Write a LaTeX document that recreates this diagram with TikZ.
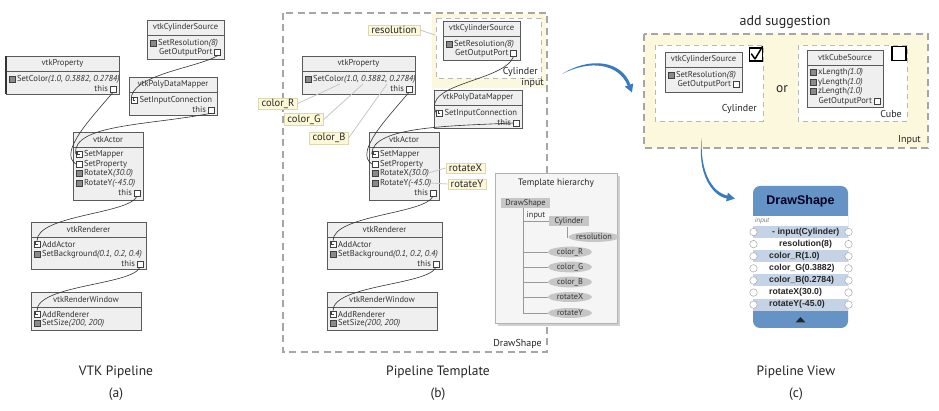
\documentclass[tikz,border=0pt]{standalone}
\usepackage{fontspec}
\setmainfont{PT Sans}
\newfontfamily\wfont{Liberation Sans}
\usetikzlibrary{arrows.meta,shapes.geometric}
\pgfdeclarelayer{bg}
\pgfsetlayers{bg,main}
\definecolor{boxfill}{HTML}{EFEFEF}
\definecolor{boxdraw}{HTML}{5A5A5A}
\definecolor{portg}{HTML}{8A8A8A}
\definecolor{yel}{HTML}{FBF8DE}
\definecolor{lblfill}{HTML}{FCF8D8}
\definecolor{lbldraw}{HTML}{DCD8B4}
\definecolor{dashg}{HTML}{A6A6A6}
\definecolor{arrblue}{HTML}{3A7BBF}
\definecolor{wblue}{HTML}{6593C6}
\definecolor{rowblue}{HTML}{C4D3E6}
\definecolor{treeg}{HTML}{C6C6C6}
\tikzset{
 vtkbox/.style={draw=boxdraw, fill=boxfill, line width=0.7pt, inner sep=0, rectangle},
 vtitle/.style={font=\fontsize{8.5}{9}\selectfont, text=black!80, inner sep=0},
 rowtext/.style={font=\fontsize{8.6}{9}\selectfont, text=black!80, inner sep=0},
 port/.style={draw=black!75, fill=white, minimum size=6pt, inner sep=0, line width=0.5pt, rectangle},
 gport/.style={port, fill=portg},
 inport/.style={port, path picture={\draw[line width=0.4pt] ([shift={(1.3pt,-1pt)}]path picture bounding box.north west) -- ++(0,-2.2pt) -- ++(2.2pt,0);}},
 conn/.style={draw=black!80, line width=0.6pt},
 lbl/.style={draw=lbldraw, fill=lblfill, font=\fontsize{10.5}{11}\selectfont, inner xsep=3pt, inner ysep=1pt, text=black!85},
 lblline/.style={draw=black!22, line width=0.8pt},
 dashbox/.style={draw=dashg, line width=1.2pt, dash pattern=on 7pt off 4.5pt},
 idash/.style={draw=dashg!80, line width=0.9pt, dash pattern=on 5pt off 4pt},
 trect/.style={fill=treeg, font=\fontsize{8.3}{9}\selectfont, inner sep=1.5pt, minimum height=10pt, text=black!80},
 tell/.style={ellipse, fill=treeg, font=\fontsize{8.3}{9}\selectfont, inner sep=0, minimum width=44pt, minimum height=10pt, text=black!80},
 tline/.style={draw=black!40, line width=0.5pt},
 captxt/.style={font=\fontsize{13.5}{15}\selectfont, text=black!85},
 plabel/.style={font=\fontsize{10}{11}\selectfont, text=black!85, inner sep=0},
 dstext/.style={font=\wfont\bfseries\fontsize{8.7}{9}\selectfont, text=black!85, inner sep=0, anchor=west},
 dsport/.style={circle, draw=black!35, fill=white, minimum size=7.5pt, inner sep=0, line width=0.5pt},
 chk/.style={draw=black, line width=1.3pt, fill=white, minimum size=13pt, inner sep=0, rectangle},
}
\newcommand\vtkBox[6]{%
 \node[vtkbox, minimum width={(#4)-(#2)}, minimum height={(#5)-(#3)}] (#1) at ({((#2)+(#4))/2},{((#3)+(#5))/2}) {};
 \node[vtitle] (#1-t) at ({((#2)+(#4))/2},{(#3)+7.5}) {#6};
 \draw[draw=boxdraw, line width=0.7pt] ({#2},{(#3)+15}) -- ({#4},{(#3)+15});
}
\newcommand\vrow[5]{%
 \node[#2] (#1) at ({#3},{#4}) {};
 \node[rowtext, anchor=west] (#1-l) at ({(#3)+4.8},{#4}) {#5};
}
\newcommand\vout[4]{%
 \node[port] (#1) at ({#2},{#3}) {};
 \node[rowtext, anchor=east] (#1-l) at ({(#2)-4.8},{#3}) {#4};
}
\newcommand\pipeline[6]{%
\begin{scope}[xshift=#2pt]
 \vtkBox{#1cyl}{#3}{#4}{#3+77}{#4+39}{vtkCylinderSource}
 \vrow{#1cres}{gport}{#3+6}{#4+23}{SetResolution\textit{(8)}}
 \vout{#1cout}{#3+70.5}{#4+32.5}{GetOutputPort}
 \vtkBox{#1prop}{6}{56}{119}{94}{vtkProperty}
 \vrow{#1pcol}{gport}{12}{79}{SetColor\textit{(1.0, 0.3882, 0.2784)}}
 \vout{#1pout}{113}{89}{this}
 \vtkBox{#1pdm}{#5}{#6}{#5+88}{#6+38}{vtkPolyDataMapper}
 \vrow{#1min}{inport}{#5+5.5}{#6+23}{SetInputConnection}
 \vout{#1mout}{#5+82}{#6+33}{this}
 \vtkBox{#1act}{73}{132}{143}{200}{vtkActor}
 \vrow{#1amap}{inport}{79}{154}{SetMapper}
 \vrow{#1aprop}{port}{79}{164}{SetProperty}
 \vrow{#1arx}{gport}{79}{173.5}{RotateX\textit{(30.0)}}
 \vrow{#1ary}{gport}{79}{183}{RotateY\textit{(-45.0)}}
 \vout{#1aout}{137}{193}{this}
 \vtkBox{#1ren}{31}{222}{146}{269}{vtkRenderer}
 \vrow{#1radd}{inport}{37}{244}{AddActor}
 \vrow{#1rbg}{gport}{37}{254}{SetBackground\textit{(0.1, 0.2, 0.4)}}
 \vout{#1rout}{140}{264}{this}
 \vtkBox{#1rw}{31}{292}{141}{330}{vtkRenderWindow}
 \vrow{#1wadd}{inport}{37}{314}{AddRenderer}
 \vrow{#1wsz}{gport}{37}{323.5}{SetSize\textit{(200, 200)}}
 \draw[conn] (#1pout.south) .. controls +(-20,24) and +(-18,-12) .. (#1aprop.west);
 \draw[conn] (#1aout.south) .. controls +(-8,18) and +(0,-26) .. (#1radd.north);
 \draw[conn] (#1rout.south) .. controls +(-8,18) and +(0,-26) .. (#1wadd.north);
\end{scope}}
\newcommand\dsrow[5]{%
 \fill[#3] (753,{226+12.1*#2}) rectangle (848,{238.1+12.1*#2});
 \node[dstext] (#1) at (#4,{232.05+12.1*#2}) {#5};
 \node[dsport] (#1-l) at (753.5,{232.05+12.1*#2}) {};
 \node[dsport] (#1-r) at (848.5,{232.05+12.1*#2}) {};
}
\begin{document}
\begin{tikzpicture}[x=1pt,y=-1pt]
\useasboundingbox (0,0) rectangle (939,411);
% ---------- backgrounds
\begin{pgfonlayer}{bg}
 \fill[white] (0,0) rectangle (939,411);
 \fill[yel] (432,14) rectangle (546,88);
 \draw[idash, fill=white] (436,18) rectangle (541,78);
 \draw[dashbox] (283,13) rectangle (547,352);
 \draw[dashbox, fill=yel] (644,34) rectangle (928,148);
 \draw[idash, fill=white] (655,45) rectangle (763,121);
 \draw[idash, fill=white] (798,45) rectangle (907,121);
\end{pgfonlayer}
% ---------- (a)
\pipeline{a}{0}{147}{20}{129}{77}
\draw[line width=2pt, black!80] (6,56) -- (6,94);
\draw[conn] (acout.south) .. controls +(-20,12) and +(-2,-25) .. (amin.west);
\draw[conn] (amout.south) .. controls +(-60,12) and +(-4,-30) .. (aamap.west);
% ---------- (b)
\pipeline{b}{296}{147}{21}{138}{90}
\draw[conn] (bcout.south) .. controls +(-10,25) and +(-15,-30) .. (bmin.west);
\draw[conn] (bmout.west) .. controls +(-60,3) and +(0,-28) .. (bamap.west);
\node[plabel, anchor=east] (bcyll) at (538,72) {Cylinder};
\node[plabel, anchor=east] (binl) at (544,83) {input};
\node[plabel, anchor=east] (bdsl) at (542,344) {DrawShape};
% labels
\node[lbl] (lres) at (394,30) {resolution};
\node[lbl] (lcr) at (278,103.5) {color\_R};
\node[lbl] (lcg) at (304,119.5) {color\_G};
\node[lbl] (lcb) at (329,138) {color\_B};
\node[lbl] (lrx) at (465.5,168) {rotateX};
\node[lbl] (lry) at (467,184) {rotateY};
\coordinate (vres) at (435,35);
\coordinate (vR) at (340,84);
\coordinate (vG) at (363,84);
\coordinate (vB) at (387,84);
\coordinate (vrx) at (428,173);
\coordinate (vry) at (430,183);
\draw[lblline] (lres.east) -- (vres);
\draw[lblline] (lcr.east) -- (vR);
\draw[lblline] (lcg.east) -- (vG);
\draw[lblline] (lcb.east) -- (vB);
\draw[lblline] (vrx) -- (lrx.west);
\draw[lblline] (vry) -- (lry.west);
% template hierarchy
\fill[black!18] (498,176) rectangle (620,326);
\node[draw=black!30, fill=black!4, minimum width=122pt, minimum height=150pt, inner sep=0] (th) at (556,248) {};
\node[font=\fontsize{9.3}{10}\selectfont, text=black!85] (tht) at (556,183) {Template hierarchy};
\node[trect, minimum width=49pt] (tds) at (525.5,203) {DrawShape};
\node[trect, minimum width=40pt] (tcyl) at (569,221) {Cylinder};
\node[font=\fontsize{8.3}{9}\selectfont, text=black!80, inner sep=0] (tin) at (536,215) {input};
\node[tell] (tres) at (594,237) {resolution};
\node[tell] (tcr) at (570,252) {color\_R};
\node[tell] (tcg) at (570,267) {color\_G};
\node[tell] (tcb) at (570,282) {color\_B};
\node[tell] (trx) at (570,297) {rotateX};
\node[tell] (try) at (570,313) {rotateY};
\coordinate (tv) at (523,208);
\draw[tline] (tv) |- (try.west);
\draw[tline] (tv |- tcyl) -- (tcyl.west);
\draw[tline] (tv |- tcr) -- (tcr.west);
\draw[tline] (tv |- tcg) -- (tcg.west);
\draw[tline] (tv |- tcb) -- (tcb.west);
\draw[tline] (tv |- trx) -- (trx.west);
\draw[tline] ([xshift=-2pt]tcyl.south) |- (tres.west);
% ---------- (c)
\node[font=\fontsize{14}{16}\selectfont, text=black!85] (sug) at (785,22) {add suggestion};
\vtkBox{ccyl}{665}{52}{742}{92}{vtkCylinderSource}
\vrow{ccres}{gport}{671}{75}{SetResolution\textit{(8)}}
\vout{ccout}{736}{84.5}{GetOutputPort}
\vtkBox{ccube}{807}{50}{883}{107}{vtkCubeSource}
\vrow{cx}{gport}{813}{72.5}{xLength\textit{(1.0)}}
\vrow{cy}{gport}{813}{82}{yLength\textit{(1.0)}}
\vrow{cz}{gport}{813}{91.5}{zLength\textit{(1.0)}}
\vout{cbout}{877}{101.5}{GetOutputPort}
\node[plabel, anchor=east] (ccyll) at (757,109) {Cylinder};
\node[plabel, anchor=east] (ccubl) at (902,114) {Cube};
\node[plabel, anchor=east] (cinl) at (921,140) {Input};
\node[font=\fontsize{13.5}{15}\selectfont, text=black!85] (cor) at (782,89) {or};
\node[chk] (chk1) at (756,54.5) {};
\draw[line width=1.5pt, line cap=round, line join=round] (751.5,54) -- (755,59) -- (762.5,46.5);
\node[chk, minimum size=14pt] (chk2) at (899,53.5) {};
% tapered blue arrows
\coordinate (a1s) at (562,74);
\coordinate (a2s) at (702,138);
\fill[arrblue] (a1s) .. controls (590,56.5) and (621.5,60.5) .. (630.4,84.5) -- (627.6,85.5) .. controls (618.5,63.5) and (590,59.5) .. (a1s) -- cycle;
\fill[arrblue] (633.2,83.4) -- (631.9,92.4) -- (624.8,86.6) -- cycle;
\fill[arrblue] (a2s) .. controls (699.5,172) and (712.5,192.5) .. (727.3,195.5) -- (726.7,198.5) .. controls (711.5,195.5) and (696.5,172) .. (a2s) -- cycle;
\fill[arrblue] (727.9,192.6) -- (734.8,198.6) -- (726.1,201.4) -- cycle;
% DrawShape widget
\node[fill=wblue, rounded corners=7pt, minimum width=95pt, minimum height=142pt, inner sep=0] (ds) at (800.5,257) {};
\node[font=\wfont\bfseries\fontsize{12.5}{13}\selectfont, text=black!80!blue!60!black] (dst) at (800.5,201) {DrawShape};
\fill[white] (753,216) rectangle (848,226);
\node[anchor=west, font=\wfont\itshape\fontsize{6.5}{7}\selectfont, text=black!50, inner sep=0] (dsin) at (755,221) {input};
\dsrow{r1}{0}{rowblue}{772}{- input(Cylinder)}
\dsrow{r2}{1}{white}{779}{resolution(8)}
\dsrow{r3}{2}{rowblue}{769}{color\_R(1.0)}
\dsrow{r4}{3}{white}{769}{color\_G(0.3882)}
\dsrow{r5}{4}{rowblue}{769}{color\_B(0.2784)}
\dsrow{r6}{5}{white}{769}{rotateX(30.0)}
\dsrow{r7}{6}{rowblue}{769}{rotateY(-45.0)}
\fill[black!85] (795.5,322.5) -- (805.5,322.5) -- (800.5,317) -- cycle;
% captions
\node[captxt] (capa) at (116,372) {VTK Pipeline};
\node[captxt] (capa2) at (116,394) {(a)};
\node[captxt] (capb) at (438,372) {Pipeline Template};
\node[captxt] (capb2) at (438,394) {(b)};
\node[captxt] (capc) at (796,372) {Pipeline View};
\node[captxt] (capc2) at (796,394) {(c)};
\end{tikzpicture}
\end{document}
